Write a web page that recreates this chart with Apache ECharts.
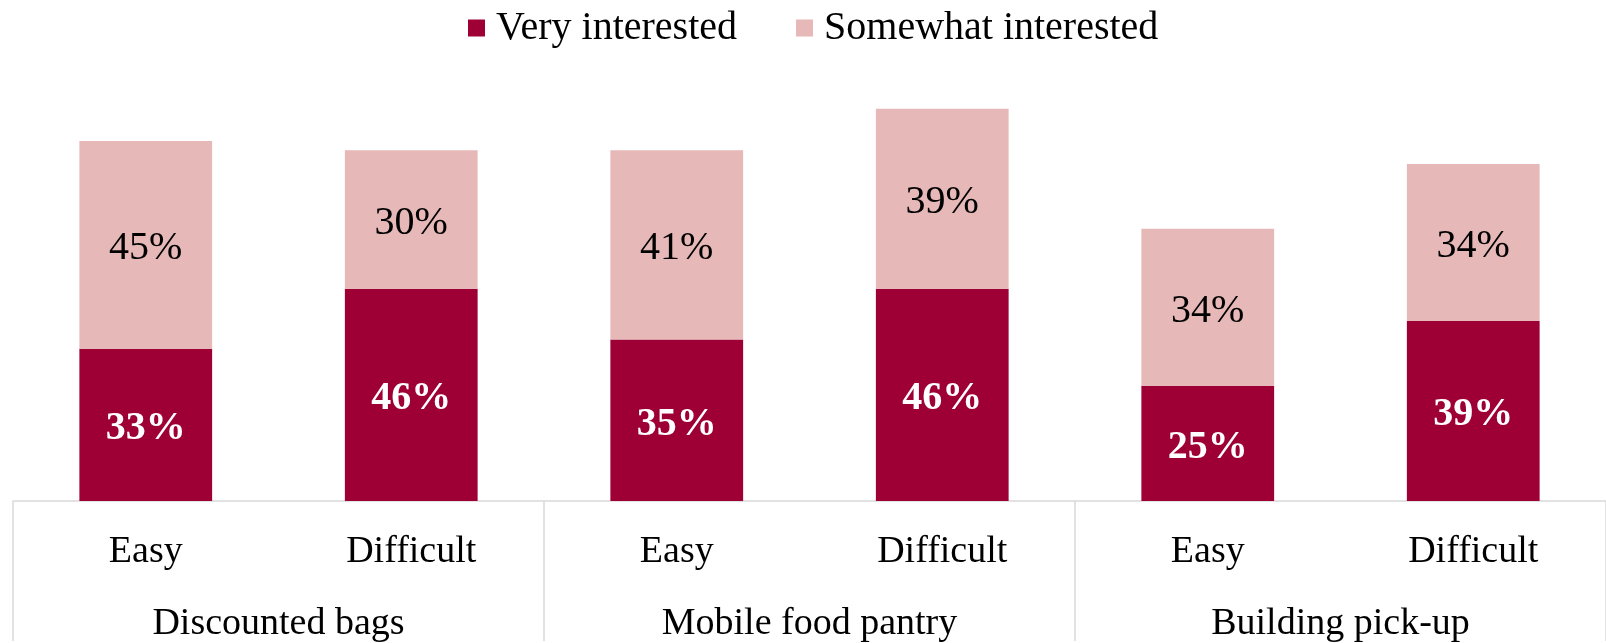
<!DOCTYPE html>
<html>
<head>
<meta charset="utf-8">
<script src="https://cdn.jsdelivr.net/npm/echarts@6/dist/echarts.min.js"></script>
<style>
  html, body { margin: 0; padding: 0; background: #ffffff; }
  #chart { width: 1606px; height: 643px; }
</style>
</head>
<body>
<div id="chart"></div>
<script>
// Interest in food access options, by how easy it is to get food today
const subCategories = ['Easy', 'Difficult', 'Easy', 'Difficult', 'Easy', 'Difficult'];
const groups = ['Discounted bags', 'Mobile food pantry', 'Building pick-up'];
const veryInterested = [33, 46, 35, 46, 25, 39];
const somewhatInterested = [45, 30, 41, 39, 34, 34];
const seriesNames = ['Very interested', 'Somewhat interested'];

const FONT = 'Liberation Serif';
const DARK = '#9E0036';
const LIGHT = '#E6B8B7';
const RULE = '#D9D9D9';

const chart = echarts.init(document.getElementById('chart'), null, { renderer: 'canvas' });

chart.setOption({
  animation: false,
  backgroundColor: '#ffffff',
  textStyle: { fontFamily: FONT },
  legend: {
    data: seriesNames,
    left: 463,
    top: 3,
    icon: 'rect',
    itemWidth: 17,
    itemHeight: 17,
    itemGap: 59,
    selectedMode: false,
    textStyle: { fontFamily: FONT, fontSize: 40, color: '#000', padding: [0, 0, 0, 6] }
  },
  grid: { left: 13, top: 39.5, width: 1596, bottom: 133.5, containLabel: false },
  xAxis: [
    {
      type: 'category',
      data: subCategories,
      position: 'bottom',
      axisLine: { show: true, lineStyle: { color: RULE, width: 1.5 } },
      axisTick: { show: false },
      axisLabel: { fontFamily: FONT, fontSize: 38, color: '#000', margin: 32, interval: 0 }
    },
    {
      type: 'category',
      data: groups,
      position: 'bottom',
      axisLine: { show: false },
      axisTick: { show: true, length: 140, lineStyle: { color: RULE, width: 1.5 } },
      axisLabel: { fontFamily: FONT, fontSize: 38, color: '#000', margin: 104, interval: 0 }
    }
  ],
  yAxis: {
    type: 'value',
    min: 0,
    max: 100,
    show: false
  },
  series: [
    {
      name: seriesNames[0],
      type: 'bar',
      stack: 'interest',
      xAxisIndex: 0,
      barCategoryGap: '50%',
      data: veryInterested,
      itemStyle: { color: DARK },
      label: {
        show: true,
        position: 'inside',
        offset: [0, 4],
        formatter: p => p.value + '%',
        fontFamily: FONT,
        fontSize: 40,
        fontWeight: 'bold',
        color: '#ffffff'
      }
    },
    {
      name: seriesNames[1],
      type: 'bar',
      stack: 'interest',
      xAxisIndex: 0,
      barCategoryGap: '50%',
      data: somewhatInterested,
      itemStyle: { color: LIGHT },
      label: {
        show: true,
        position: 'inside',
        offset: [0, 4],
        formatter: p => p.value + '%',
        fontFamily: FONT,
        fontSize: 40,
        color: '#000000'
      }
    }
  ]
});
</script>
</body>
</html>
